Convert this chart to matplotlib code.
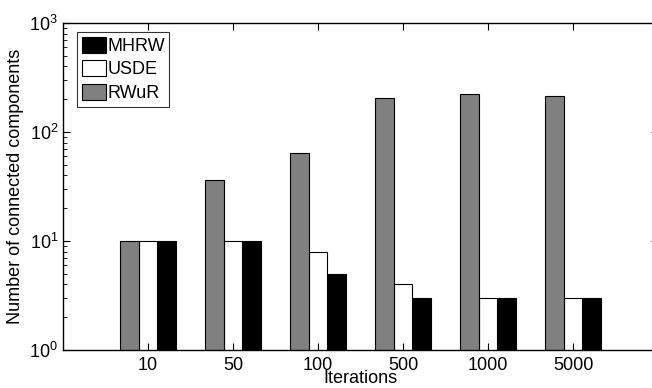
import matplotlib
matplotlib.use("Agg")
import matplotlib.pyplot as plt
import numpy as np

plt.rcParams['font.family'] = ['Liberation Sans', 'DejaVu Sans']

categories = ["10", "50", "100", "500", "1000", "5000"]
rwur = [10, 36, 64, 205, 222, 214]
usde = [10, 10, 8, 4, 3, 3]
mhrw = [10, 10, 5, 3, 3, 3]

fig = plt.figure(figsize=(6.52, 3.88), dpi=100)
ax = fig.add_axes([63/652, 38/388, 595/652, 327/388])

x = np.arange(1, len(categories) + 1)
w = 0.2235
b_mhrw = ax.bar(x + w, mhrw, w, color='black', edgecolor='black', linewidth=0.8, label='MHRW')
b_usde = ax.bar(x, usde, w, color='white', edgecolor='black', linewidth=0.8, label='USDE')
b_rwur = ax.bar(x - w, rwur, w, color='#808080', edgecolor='black', linewidth=0.8, label='RWuR')

ax.set_yscale('log')
ax.set_ylim(1, 1000)
ax.set_xlim(0, 7)
ax.set_xticks(x)
ax.set_xticklabels(categories)
ax.tick_params(axis='both', which='both', direction='in', top=True, right=True, labelsize=13)
ax.tick_params(axis='both', which='major', length=5)
ax.tick_params(axis='y', which='minor', length=3)
ax.tick_params(axis='x', which='major', pad=5)
for s in ax.spines.values():
    s.set_linewidth(1.0)

ax.set_xlabel('Iterations', fontsize=13, labelpad=-2.5)
ax.set_ylabel('Number of connected components', fontsize=13, labelpad=4)

leg = ax.legend(handles=[b_mhrw, b_usde, b_rwur], loc='upper left',
                bbox_to_anchor=(14/595, 1 - 9/327), fontsize=13,
                frameon=True, fancybox=False, edgecolor='black',
                handlelength=1.35, handleheight=1.0, handletextpad=0.08,
                labelspacing=0.3, borderpad=0.25, borderaxespad=0)
leg.get_frame().set_linewidth(0.8)

fig.savefig('out.png', dpi=100)
